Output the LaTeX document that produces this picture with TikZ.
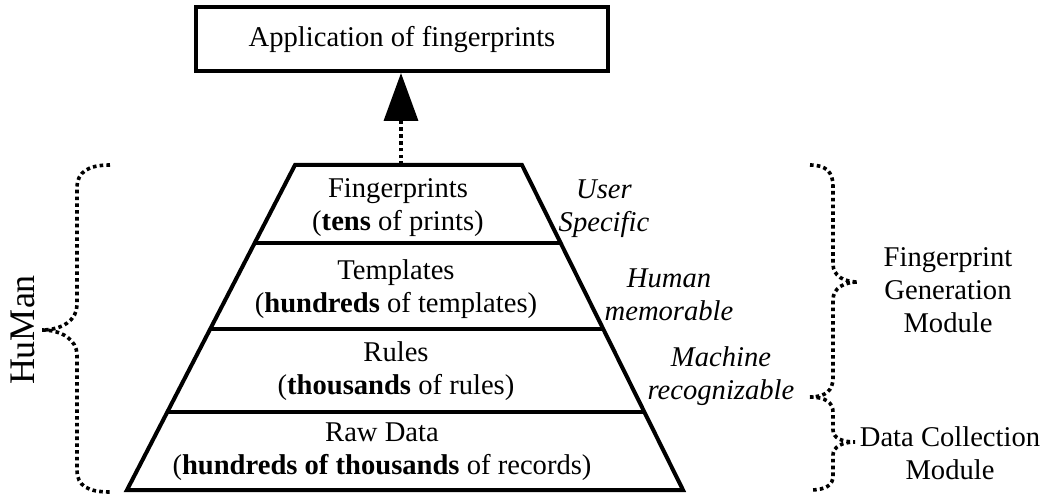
\documentclass[tikz,border=0pt]{standalone}
\usepackage{fontspec}
\setmainfont{Liberation Serif}
\usetikzlibrary{arrows.meta,calc}

\begin{document}
\begin{tikzpicture}[x=1pt,y=-1pt,
  txt/.style={font=\fontsize{28.6}{33}\selectfont, align=center, inner sep=0pt},
  note/.style={txt, font=\fontsize{28.6}{33}\selectfont\itshape},
  solidline/.style={line width=4pt},
  dots/.style={line width=3.6pt, dash pattern=on 3.6pt off 3.2pt}
]
\useasboundingbox (0,0) rectangle (1047,494);

% top box
\node[txt, draw, solidline, minimum width=412pt, minimum height=63.5pt] (app) at (402,39.25) {Application of fingerprints};

% pyramid outline and level separators
\coordinate (tl) at (295,165);
\coordinate (tr) at (522,165);
\coordinate (br) at (683,490);
\coordinate (bl) at (127,490);
\draw[solidline, line join=miter] (tl) -- (tr) -- (br) -- (bl) -- cycle;
\draw[solidline] ($(tl)!0.24!(bl)$) -- ($(tr)!0.24!(br)$);
\draw[solidline] ($(tl)!0.5046!(bl)$) -- ($(tr)!0.5046!(br)$);
\draw[solidline] ($(tl)!0.76!(bl)$) -- ($(tr)!0.76!(br)$);

% level texts
\node[txt] (lvl1) at (398,207.5) {Fingerprints\\(\textbf{tens} of prints)};
\node[txt] (lvl2) at (396,289.5) {Templates\\(\textbf{hundreds} of templates)};
\node[txt] (lvl3) at (396,371.5) {Rules\\(\textbf{thousands} of rules)};
\node[txt] (lvl4) at (382,452) {Raw Data\\(\textbf{hundreds of thousands} of records)};

% side notes
\node[note] (n1) at (604,209) {User\\Specific};
\node[note] (n2) at (669,295) {Human\\memorable};
\node[note] (n3) at (721,376) {Machine\\recognizable};

% arrow from pyramid to application box
\coordinate (apex) at (401,165);
\draw[dots, -{Triangle[length=48pt,width=34pt]}] (apex) -- (apex |- app.south);

% left brace
\draw[dots] (110,165) .. controls (88,165) and (77,172) .. (77,188) -- (77,305)
  .. controls (77,320) and (62,330) .. (42,330)
  .. controls (62,330) and (77,340) .. (77,355) -- (77,470)
  .. controls (77,486) and (88,492) .. (110,492);
\node[font=\fontsize{36}{40}\selectfont, rotate=90, inner sep=0pt] (hm) at (23,330) {HuMan};

% right braces
\draw[dots] (810,165) .. controls (826,165) and (833,172) .. (833,186) -- (833,264)
  .. controls (833,276) and (844,282) .. (858,282)
  .. controls (844,282) and (833,288) .. (833,300) -- (833,378)
  .. controls (833,390) and (826,397) .. (810,397);
\draw[dots] (810,397) .. controls (826,397) and (833,403) .. (833,412) -- (833,430)
  .. controls (833,438) and (842,442) .. (855,442)
  .. controls (842,442) and (833,447) .. (833,455) -- (833,476)
  .. controls (833,485) and (826,490) .. (810,490);

\node[txt] (fgm) at (948,290) {Fingerprint\\Generation\\Module};
\node[txt] (dcm) at (950,453) {Data Collection\\Module};
\end{tikzpicture}
\end{document}
